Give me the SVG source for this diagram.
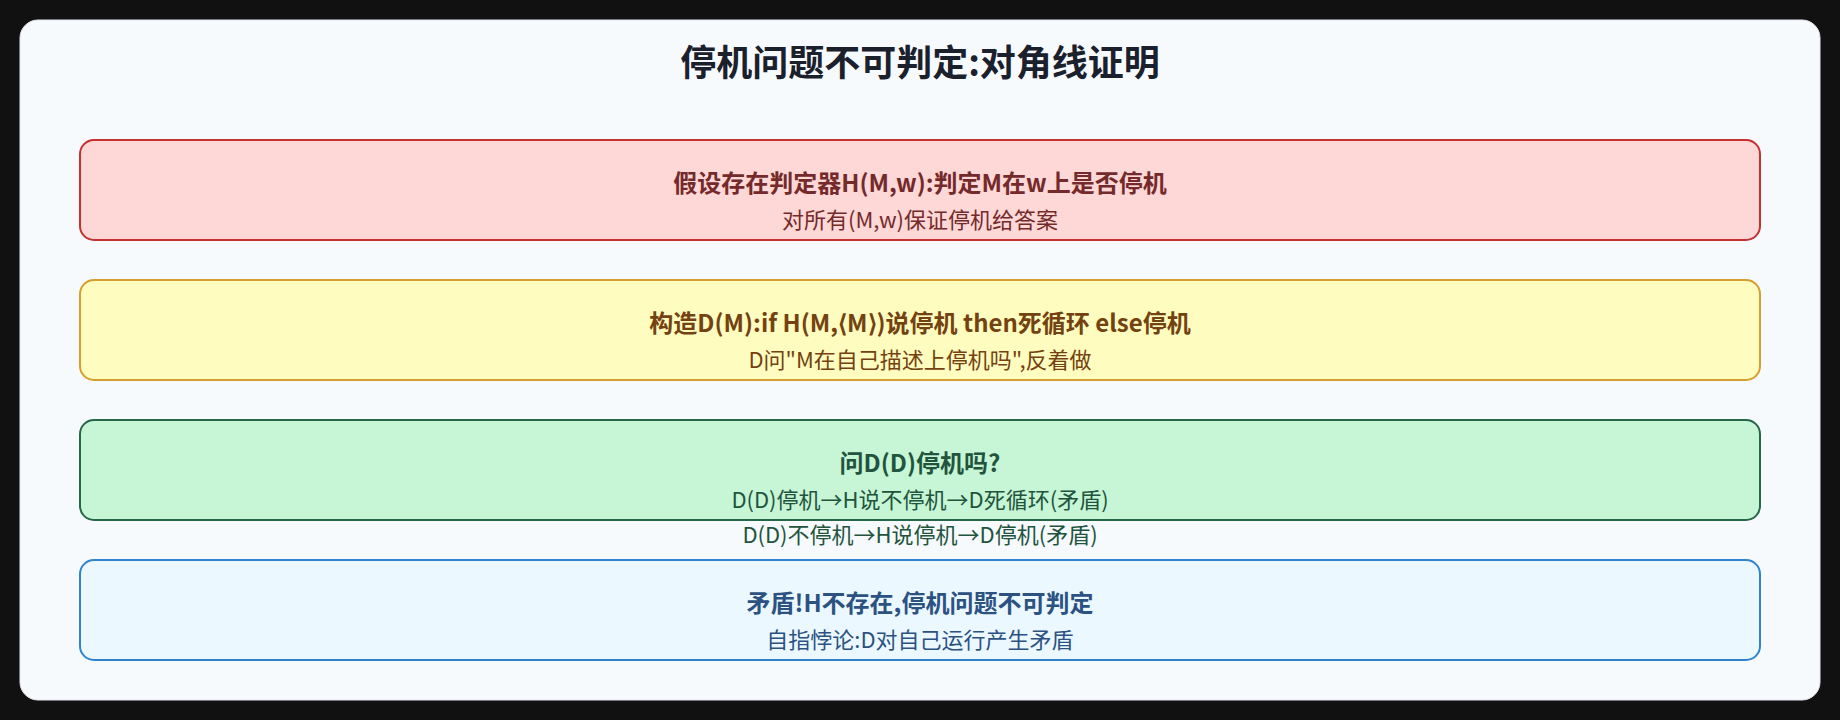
<svg xmlns="http://www.w3.org/2000/svg" width="1840" height="720" viewBox="0 0 1840 720">
<style>
text{font-family:"Noto Sans CJK SC","Microsoft YaHei","Noto Sans",sans-serif;text-anchor:middle;dominant-baseline:central}
.title{font-size:36px;font-weight:700;fill:#1a202c}
.h{font-size:24px;font-weight:700}
.s{font-size:22px;font-weight:400}
.box{stroke-width:2}
.red rect{fill:#fed7d7;stroke:#c53030}
.red text{fill:#742a2a}
.yel rect{fill:#fefcbf;stroke:#d69e2e}
.yel text{fill:#744210}
.grn rect{fill:#c6f6d5;stroke:#276749}
.grn text{fill:#22543d}
.blu rect{fill:#ebf8ff;stroke:#3182ce}
.blu text{fill:#2c5282}
</style>
<rect x="0" y="0" width="1840" height="720" fill="#111111"/>
<rect id="panel" x="20" y="20" width="1800" height="680" rx="18" fill="#f7fafc" stroke="#e2e8f0" stroke-width="1"/>
<text class="title" x="920" y="60">停机问题不可判定:对角线证明</text>
<g id="connectors"></g>
<g id="assume" class="red">
<rect class="box" x="80" y="140" width="1680" height="100" rx="14"/>
<text class="h" x="920" y="181.5">假设存在判定器H(M,w):判定M在w上是否停机</text>
<text class="s" x="920" y="217.5">对所有(M,w)保证停机给答案</text>
</g>
<g id="construct" class="yel">
<rect class="box" x="80" y="280" width="1680" height="100" rx="14"/>
<text class="h" x="920" y="321.5">构造D(M):if H(M,⟨M⟩)说停机 then死循环 else停机</text>
<text class="s" x="920" y="357.5">D问"M在自己描述上停机吗",反着做</text>
</g>
<g id="ask" class="grn">
<rect class="box" x="80" y="420" width="1680" height="100" rx="14"/>
<text class="h" x="920" y="461.5">问D(D)停机吗?</text>
<text class="s" x="920" y="497.5">D(D)停机→H说不停机→D死循环(矛盾)</text>
<text class="s" x="920" y="532.5">D(D)不停机→H说停机→D停机(矛盾)</text>
</g>
<g id="conclusion" class="blu">
<rect class="box" x="80" y="560" width="1680" height="100" rx="14"/>
<text class="h" x="920" y="601.5">矛盾!H不存在,停机问题不可判定</text>
<text class="s" x="920" y="637.5">自指悖论:D对自己运行产生矛盾</text>
</g>
</svg>
